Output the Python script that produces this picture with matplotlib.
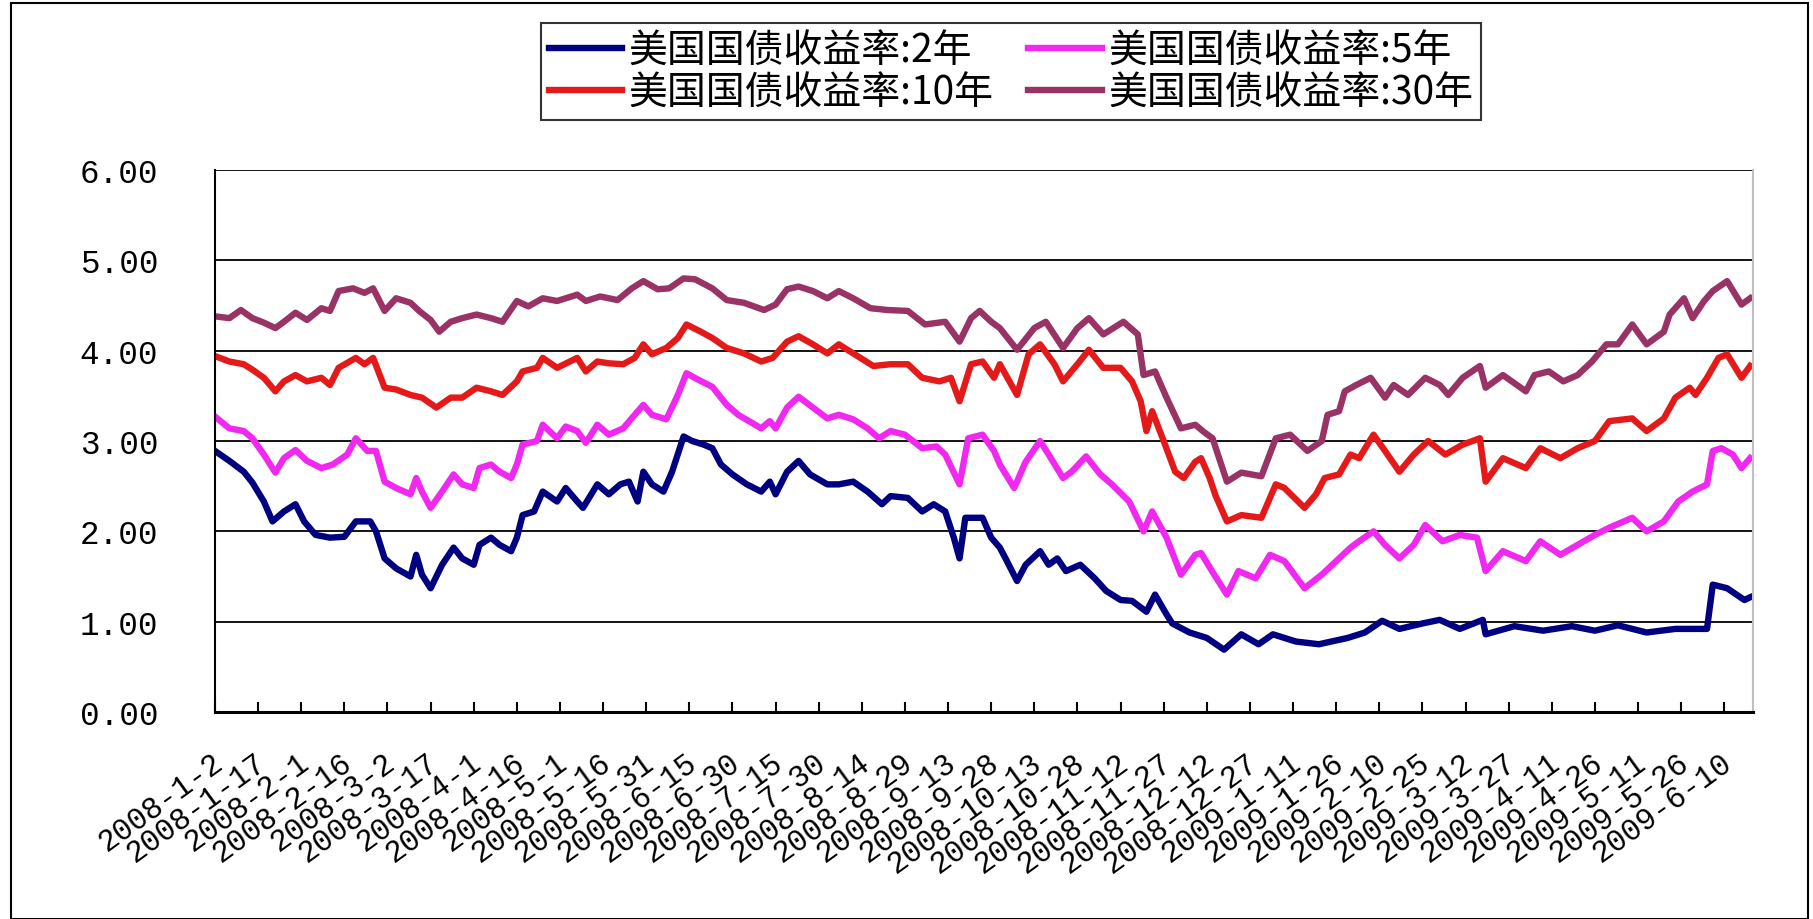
import pandas as pd
import matplotlib.pyplot as plt
import matplotlib.transforms as mtransforms
from matplotlib.patches import Rectangle

plt.rcParams['font.family'] = ['Noto Sans CJK SC', 'DejaVu Sans']

# trading-day offsets from 2008-01-02 and yields (%)
start = pd.Timestamp('2008-01-02')

days_2y = [0, 5, 10, 13, 17, 20, 24, 28, 31, 35, 40, 45, 49, 54, 56, 59, 63, 68, 70, 72,
           75, 79, 83, 86, 90, 92, 96, 99, 103, 105, 107, 111, 114, 119, 122, 126, 128, 133,
           137, 141, 144, 147, 149, 152, 156, 159, 163, 166, 170, 173, 176, 180, 185, 190,
           193, 195, 199, 203, 207, 213, 217, 222, 227, 232, 235, 241, 246, 250, 254, 257,
           259, 261, 265, 267, 270, 273, 275, 279, 282, 287, 290, 293, 296, 301, 306, 310,
           315, 319, 324, 327, 331, 333, 339, 345, 351, 357, 363, 368, 376, 384, 394, 400,
           406, 412, 420, 426, 433, 441, 442, 452, 462, 472, 480, 488, 498, 508, 516, 519,
           521, 526, 532, 534]
yield_2y = [2.89, 2.78, 2.66, 2.54, 2.33, 2.11, 2.22, 2.30, 2.11, 1.96, 1.93, 1.94, 2.11, 2.11,
            2.00, 1.70, 1.59, 1.50, 1.74, 1.52, 1.37, 1.63, 1.82, 1.70, 1.63, 1.85, 1.93, 1.85,
            1.78, 1.93, 2.18, 2.22, 2.44, 2.33, 2.48, 2.33, 2.26, 2.52, 2.41, 2.52, 2.55, 2.33,
            2.66, 2.52, 2.44, 2.66, 3.05, 3.00, 2.96, 2.92, 2.74, 2.63, 2.52, 2.44, 2.55, 2.41,
            2.66, 2.78, 2.63, 2.52, 2.52, 2.55, 2.44, 2.30, 2.39, 2.37, 2.22, 2.30, 2.22, 1.93,
            1.70, 2.15, 2.15, 2.15, 1.93, 1.82, 1.70, 1.45, 1.63, 1.78, 1.63, 1.70, 1.56, 1.63,
            1.48, 1.34, 1.24, 1.23, 1.11, 1.30, 1.08, 0.98, 0.88, 0.82, 0.69, 0.86, 0.75, 0.86,
            0.78, 0.75, 0.82, 0.88, 1.01, 0.92, 0.98, 1.02, 0.92, 1.02, 0.86, 0.95, 0.90, 0.95,
            0.90, 0.96, 0.88, 0.92, 0.92, 0.92, 1.41, 1.37, 1.24, 1.27]

days_5y = [0, 5, 10, 13, 17, 21, 24, 28, 32, 37, 41, 46, 49, 53, 56, 59, 63, 68, 70, 72,
           75, 79, 83, 86, 90, 92, 96, 99, 103, 105, 107, 112, 114, 119, 122, 126, 129, 133,
           137, 142, 146, 149, 152, 157, 161, 164, 168, 173, 178, 182, 190, 193, 195, 199,
           203, 208, 213, 217, 222, 227, 231, 235, 240, 246, 251, 254, 259, 262, 267, 271,
           273, 278, 282, 287, 290, 295, 298, 303, 308, 312, 318, 323, 326, 331, 336, 341,
           343, 347, 352, 356, 362, 367, 372, 379, 385, 390, 395, 398, 403, 407, 412, 417,
           421, 427, 433, 439, 442, 448, 456, 461, 468, 474, 480, 485, 493, 498, 504, 509,
           514, 519, 521, 524, 528, 531, 534]
yield_5y = [3.27, 3.14, 3.11, 3.03, 2.85, 2.65, 2.81, 2.90, 2.78, 2.70, 2.74, 2.85, 3.03, 2.89,
            2.89, 2.55, 2.48, 2.41, 2.59, 2.44, 2.26, 2.44, 2.63, 2.52, 2.48, 2.70, 2.74, 2.66,
            2.59, 2.74, 2.96, 3.00, 3.18, 3.03, 3.16, 3.11, 2.98, 3.18, 3.07, 3.14, 3.29, 3.40,
            3.29, 3.24, 3.51, 3.75, 3.68, 3.60, 3.40, 3.29, 3.14, 3.22, 3.14, 3.37, 3.49, 3.37,
            3.25, 3.29, 3.24, 3.14, 3.03, 3.11, 3.07, 2.92, 2.94, 2.85, 2.52, 3.03, 3.07, 2.89,
            2.74, 2.48, 2.77, 3.00, 2.85, 2.59, 2.66, 2.83, 2.63, 2.52, 2.33, 2.00, 2.22, 1.93,
            1.52, 1.74, 1.76, 1.55, 1.30, 1.56, 1.48, 1.74, 1.67, 1.37, 1.52, 1.67, 1.82, 1.89,
            2.00, 1.85, 1.70, 1.85, 2.07, 1.89, 1.96, 1.93, 1.56, 1.78, 1.67, 1.89, 1.74, 1.85,
            1.96, 2.04, 2.15, 2.00, 2.11, 2.33, 2.44, 2.52, 2.89, 2.92, 2.85, 2.70, 2.81]

days_10y = [0, 5, 10, 13, 17, 21, 24, 28, 32, 37, 40, 43, 49, 52, 55, 59, 63, 68, 72, 77,
            82, 86, 91, 96, 100, 105, 107, 112, 114, 119, 126, 129, 133, 137, 142, 146, 149,
            152, 157, 161, 164, 169, 173, 178, 184, 190, 194, 199, 203, 208, 213, 217, 222,
            229, 235, 241, 246, 252, 256, 259, 263, 267, 271, 273, 279, 283, 287, 292, 295,
            300, 304, 309, 315, 319, 322, 324, 326, 330, 334, 337, 341, 343, 346, 348, 352,
            357, 364, 369, 372, 379, 383, 386, 391, 395, 398, 403, 407, 412, 417, 422, 428,
            434, 440, 442, 448, 456, 461, 468, 474, 480, 485, 493, 498, 504, 508, 513, 515,
            519, 523, 526, 531, 534]
yield_10y = [3.94, 3.88, 3.85, 3.79, 3.70, 3.55, 3.66, 3.73, 3.66, 3.70, 3.62, 3.81, 3.92, 3.85,
             3.92, 3.59, 3.57, 3.51, 3.48, 3.37, 3.48, 3.48, 3.59, 3.55, 3.51, 3.66, 3.77, 3.81,
             3.92, 3.81, 3.92, 3.77, 3.88, 3.86, 3.85, 3.92, 4.07, 3.96, 4.03, 4.14, 4.29, 4.21,
             4.14, 4.03, 3.97, 3.88, 3.92, 4.10, 4.16, 4.07, 3.97, 4.07, 3.97, 3.83, 3.85, 3.85,
             3.70, 3.66, 3.70, 3.44, 3.85, 3.88, 3.70, 3.85, 3.51, 3.96, 4.07, 3.85, 3.66, 3.85,
             4.01, 3.81, 3.81, 3.66, 3.44, 3.11, 3.33, 3.00, 2.66, 2.59, 2.77, 2.81, 2.59, 2.40,
             2.11, 2.18, 2.15, 2.52, 2.48, 2.26, 2.41, 2.59, 2.63, 2.85, 2.81, 3.07, 2.89, 2.66,
             2.85, 3.00, 2.85, 2.96, 3.03, 2.55, 2.81, 2.70, 2.92, 2.81, 2.92, 3.00, 3.22, 3.25,
             3.11, 3.25, 3.48, 3.59, 3.51, 3.70, 3.92, 3.96, 3.70, 3.83]

days_30y = [0, 5, 9, 13, 17, 21, 24, 28, 32, 37, 40, 43, 48, 52, 55, 59, 63, 68, 71, 75,
            78, 82, 86, 91, 96, 100, 105, 109, 114, 119, 126, 129, 134, 140, 145, 149, 154,
            158, 163, 167, 173, 178, 184, 191, 195, 199, 203, 208, 213, 217, 222, 228, 234,
            241, 247, 254, 259, 263, 266, 270, 273, 279, 285, 289, 295, 300, 304, 309, 316,
            321, 323, 327, 331, 336, 341, 344, 347, 352, 357, 364, 369, 374, 380, 385, 387,
            391, 393, 397, 402, 407, 410, 415, 421, 426, 429, 434, 440, 442, 448, 456, 459,
            464, 469, 474, 479, 484, 488, 493, 498, 504, 506, 511, 514, 518, 521, 526, 531,
            534]
yield_30y = [4.38, 4.36, 4.45, 4.36, 4.31, 4.25, 4.32, 4.42, 4.34, 4.47, 4.44, 4.66, 4.69, 4.64,
             4.69, 4.44, 4.58, 4.53, 4.44, 4.34, 4.21, 4.32, 4.36, 4.40, 4.36, 4.32, 4.55, 4.49,
             4.58, 4.55, 4.62, 4.55, 4.60, 4.56, 4.69, 4.77, 4.68, 4.69, 4.80, 4.79, 4.69, 4.56,
             4.53, 4.45, 4.51, 4.68, 4.71, 4.66, 4.58, 4.66, 4.58, 4.47, 4.45, 4.44, 4.29, 4.32,
             4.10, 4.36, 4.44, 4.32, 4.25, 4.01, 4.25, 4.32, 4.03, 4.25, 4.36, 4.18, 4.32, 4.18,
             3.73, 3.77, 3.48, 3.14, 3.18, 3.10, 3.03, 2.55, 2.65, 2.61, 3.03, 3.07, 2.89, 3.00,
             3.29, 3.33, 3.55, 3.62, 3.70, 3.48, 3.62, 3.51, 3.70, 3.62, 3.51, 3.70, 3.83, 3.59,
             3.73, 3.55, 3.73, 3.77, 3.66, 3.73, 3.88, 4.07, 4.07, 4.29, 4.07, 4.21, 4.40, 4.58,
             4.36, 4.55, 4.66, 4.77, 4.51, 4.58]

tick_labels = ['2008-1-2', '2008-1-17', '2008-2-1', '2008-2-16', '2008-3-2', '2008-3-17',
               '2008-4-1', '2008-4-16', '2008-5-1', '2008-5-16', '2008-5-31', '2008-6-15',
               '2008-6-30', '2008-7-15', '2008-7-30', '2008-8-14', '2008-8-29', '2008-9-13',
               '2008-9-28', '2008-10-13', '2008-10-28', '2008-11-12', '2008-11-27',
               '2008-12-12', '2008-12-27', '2009-1-11', '2009-1-26', '2009-2-10',
               '2009-2-25', '2009-3-12', '2009-3-27', '2009-4-11', '2009-4-26', '2009-5-11',
               '2009-5-26', '2009-6-10']

series = [
    ('美国国债收益率:2年', days_2y, yield_2y, '#000080'),
    ('美国国债收益率:5年', days_5y, yield_5y, '#F028F0'),
    ('美国国债收益率:10年', days_10y, yield_10y, '#E41A1A'),
    ('美国国债收益率:30年', days_30y, yield_30y, '#993366'),
]

fig = plt.figure(figsize=(18.13, 9.2), dpi=100)
ax = fig.add_axes([215 / 1813, 207 / 920, 1538 / 1813, 542 / 920])

lines = {}
for name, days, vals, color in series:
    dates = start + pd.to_timedelta(days, unit='D')
    ln, = ax.plot(dates, vals, color=color, lw=4.6, solid_joinstyle='round', label=name)
    lines[name] = ln

ax.set_xlim(start, pd.Timestamp('2009-06-20'))
ax.set_ylim(0, 6)

ax.set_yticks(range(7))
ax.set_yticklabels([f'{v:.2f}' for v in range(7)], family='Liberation Mono', fontsize=23.5)
ax.tick_params(axis='y', length=0, pad=41)
ax.yaxis.grid(True, color='black', lw=1.3)
ax.set_axisbelow(True)

tick_dates = [pd.Timestamp(s) for s in tick_labels]
ax.set_xticks(tick_dates)
ax.set_xticklabels(tick_labels, rotation=36, ha='right', va='top', rotation_mode='anchor',
                   family='Liberation Mono', fontsize=22)
ax.tick_params(axis='x', direction='in', length=7, width=1.5, pad=25)
shift = mtransforms.ScaledTranslation(-4 / 100, 0, fig.dpi_scale_trans)
for lbl in ax.get_xticklabels():
    lbl.set_transform(lbl.get_transform() + shift)

ax.spines['top'].set_visible(False)
ax.spines['left'].set_linewidth(1.5)
ax.spines['bottom'].set_linewidth(2.2)
ax.spines['right'].set_color('#C0C0C0')
ax.spines['right'].set_linewidth(1.5)

# legend: two columns, filled column by column
order = ['美国国债收益率:2年', '美国国债收益率:10年', '美国国债收益率:5年', '美国国债收益率:30年']
leg = fig.legend([lines[k] for k in order], order, loc='center',
                 bbox_to_anchor=(0.5575, 0.921), ncol=2, frameon=True, fancybox=False,
                 edgecolor='black', fontsize=28, handlelength=1.9, handletextpad=0.15,
                 columnspacing=0.9, borderpad=0.2, labelspacing=0.05, borderaxespad=0)
leg.get_frame().set_linewidth(1.5)

# outer chart frame
fig.patches.append(Rectangle((11 / 1813, 0), 1797 / 1813, 916 / 920, transform=fig.transFigure,
                             fill=False, edgecolor='black', lw=1.5))

fig.savefig('out.png', dpi=100)
